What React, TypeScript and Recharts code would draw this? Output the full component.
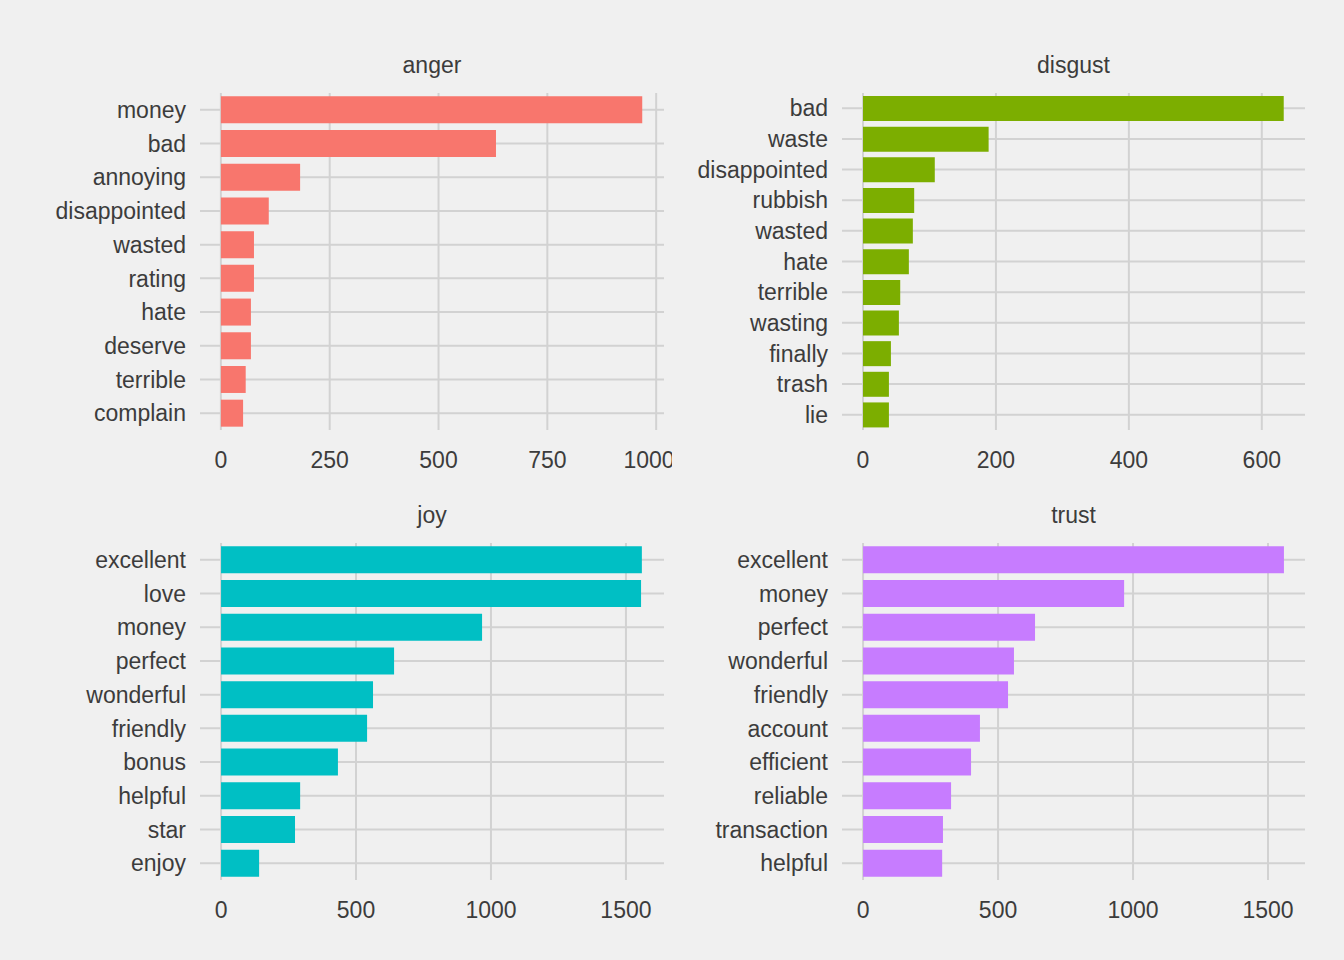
import { BarChart, Bar, XAxis, YAxis, CartesianGrid } from "recharts"

const angerWords = ["money", "bad", "annoying", "disappointed", "wasted", "rating", "hate", "deserve", "terrible", "complain"]
const angerCounts = [968, 632, 182, 110, 76, 76, 69, 69, 57, 51]

const disgustWords = ["bad", "waste", "disappointed", "rubbish", "wasted", "hate", "terrible", "wasting", "finally", "trash", "lie"]
const disgustCounts = [633, 189, 108, 77, 75, 69, 56, 54, 42, 39, 39]

const joyWords = ["excellent", "love", "money", "perfect", "wonderful", "friendly", "bonus", "helpful", "star", "enjoy"]
const joyCounts = [1559, 1556, 967, 641, 563, 541, 433, 293, 274, 141]

const trustWords = ["excellent", "money", "perfect", "wonderful", "friendly", "account", "efficient", "reliable", "transaction", "helpful"]
const trustCounts = [1559, 967, 637, 559, 537, 433, 400, 326, 296, 293]

const TEXT = "#3c3c3c"
const GRID = "#d2d2d2"
const FONT = "Arial, 'Liberation Sans', sans-serif"

function Panel(props: {
  title: string
  words: string[]
  counts: number[]
  color: string
  domain: [number, number]
  ticks: number[]
  left: number
  top: number
  axisWidth: number
  rightMargin: number
}) {
  const data = props.words.map((w, i) => ({ word: w, n: props.counts[i] }))
  const plotCenter = props.axisWidth + (672 - props.axisWidth - props.rightMargin) / 2
  return (
    <div style={{ position: "absolute", left: props.left, top: props.top, width: 672, height: 480 }}>
      <div
        style={{
          position: "absolute",
          top: 52,
          left: plotCenter - 150,
          width: 300,
          textAlign: "center",
          fontSize: 23,
          color: TEXT,
          fontFamily: FONT,
        }}
      >
        {props.title}
      </div>
      <BarChart
        width={672}
        height={480}
        data={data}
        layout="vertical"
        margin={{ top: 93, right: props.rightMargin, left: 0, bottom: 10 }}
        barCategoryGap="10%"
        style={{ overflow: "visible" }}
      >
        <CartesianGrid stroke={GRID} strokeWidth={2} syncWithTicks />
        <XAxis
          type="number"
          domain={props.domain}
          ticks={props.ticks}
          allowDataOverflow
          axisLine={false}
          tickLine={false}
          height={40}
          tickMargin={16}
          tick={{ fontSize: 23, fill: TEXT, fontFamily: FONT }}
        />
        <YAxis
          type="category"
          dataKey="word"
          width={props.axisWidth}
          axisLine={false}
          tickLine={false}
          tickMargin={8}
          interval={0}
          tick={{ fontSize: 23, fill: TEXT, fontFamily: FONT }}
        />
        <Bar dataKey="n" fill={props.color} isAnimationActive={false} />
      </BarChart>
    </div>
  )
}

export default function App() {
  return (
    <div style={{ position: "fixed", left: 0, top: 0, width: 1344, height: 960, background: "#f0f0f0" }}>
      <Panel title="anger" words={angerWords} counts={angerCounts} color="#F8766D"
        domain={[-48, 1018]} ticks={[0, 250, 500, 750, 1000]} left={0} top={0} axisWidth={200} rightMargin={8} />
      <Panel title="disgust" words={disgustWords} counts={disgustCounts} color="#7CAE00"
        domain={[-31.6, 665]} ticks={[0, 200, 400, 600]} left={672} top={0} axisWidth={170} rightMargin={39} />
      <Panel title="joy" words={joyWords} counts={joyCounts} color="#00BFC4"
        domain={[-78, 1641]} ticks={[0, 500, 1000, 1500]} left={0} top={450} axisWidth={200} rightMargin={8} />
      <Panel title="trust" words={trustWords} counts={trustCounts} color="#C77CFF"
        domain={[-78, 1637]} ticks={[0, 500, 1000, 1500]} left={672} top={450} axisWidth={170} rightMargin={39} />
    </div>
  )
}
